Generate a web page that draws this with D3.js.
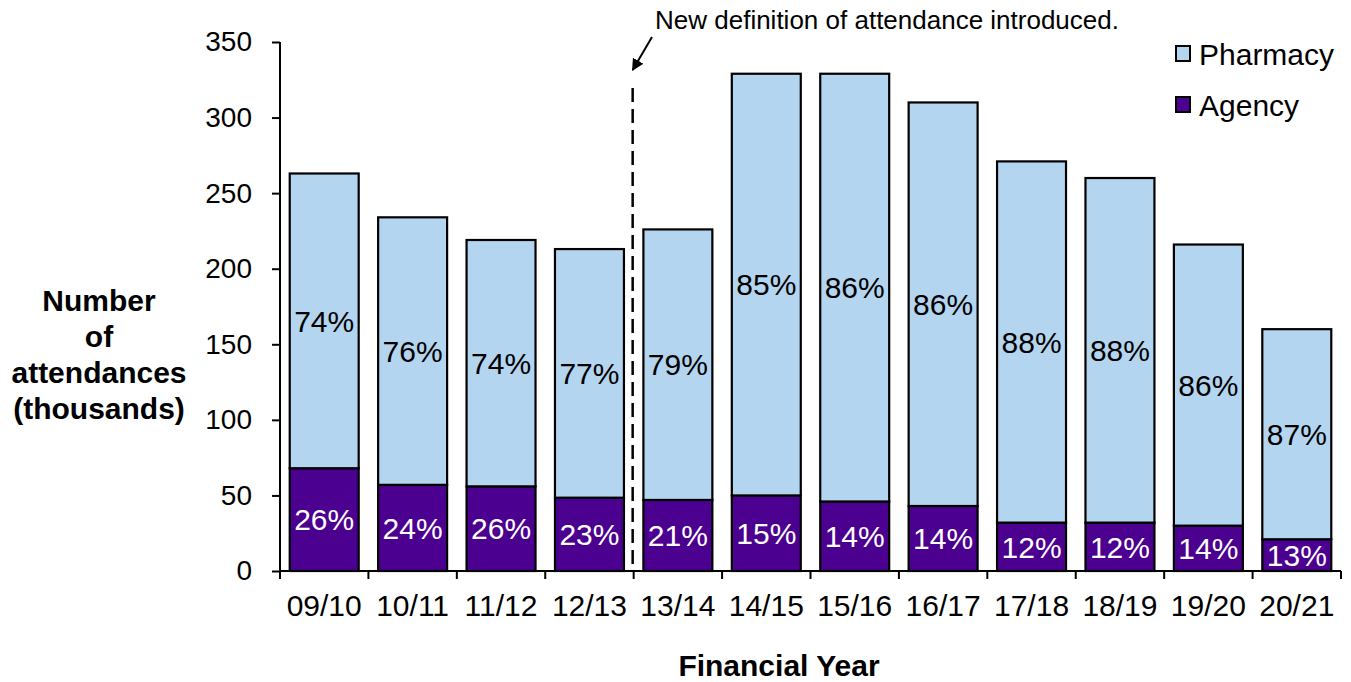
<!DOCTYPE html>
<html>
<head>
<meta charset="utf-8">
<script src="https://cdn.jsdelivr.net/npm/d3@7"></script>
<style>
  html, body { margin: 0; padding: 0; background: #fff; }
  svg { display: block; font-family: "Liberation Sans", Arial, sans-serif; }
</style>
</head>
<body>
<svg id="chart" width="1351" height="682"></svg>
<script>
// Attendances by financial year (thousands)
const years = ["09/10", "10/11", "11/12", "12/13", "13/14", "14/15", "15/16", "16/17", "17/18", "18/19", "19/20", "20/21"];
const agency = [68, 57, 56, 48.5, 47, 50, 46, 43, 32, 32, 30, 21];
const pharmacy = [195, 177, 163, 164.5, 179, 279, 283, 267, 239, 228, 186, 139];
const yTicks = [0, 50, 100, 150, 200, 250, 300, 350];
const seriesNames = ["Pharmacy", "Agency"];
const seriesColors = { Pharmacy: "#b4d5f0", Agency: "#4b0090" };
const breakAfter = "12/13"; // definition change sits between this year and the next

const svg = d3.select("#chart");
const plotLeft = 280, plotRight = 1341, plotTop = 42, plotBottom = 571;

const x = d3.scaleBand().domain(years).range([plotLeft, plotRight]).paddingInner(0.22).paddingOuter(0.11);
const y = d3.scaleLinear().domain([0, 350]).range([plotBottom, plotTop]);

const rows = years.map((yr, i) => ({ year: yr, Agency: agency[i], Pharmacy: pharmacy[i] }));
const stack = d3.stack().keys(["Agency", "Pharmacy"]);
const layers = stack(rows);

// Stacked bars
const g = svg.append("g");
layers.forEach(layer => {
  g.append("g").selectAll("rect").data(layer).join("rect")
    .attr("x", d => x(d.data.year))
    .attr("width", x.bandwidth())
    .attr("y", d => y(d[1]))
    .attr("height", d => y(d[0]) - y(d[1]))
    .attr("fill", seriesColors[layer.key])
    .attr("stroke", "#000")
    .attr("stroke-width", 2.2);
});

// Share labels inside each segment
layers.forEach(layer => {
  g.append("g").selectAll("text").data(layer).join("text")
    .attr("x", d => x(d.data.year) + x.bandwidth() / 2)
    .attr("y", d => (y(d[0]) + y(d[1])) / 2)
    .attr("dy", "0.36em")
    .attr("text-anchor", "middle")
    .attr("font-size", 30)
    .attr("fill", layer.key === "Agency" ? "#fff" : "#000")
    .text(d => Math.round(100 * (d[1] - d[0]) / (d.data.Agency + d.data.Pharmacy)) + "%");
});

// Y axis
const yAxis = svg.append("g").attr("transform", `translate(${plotLeft},0)`)
  .call(d3.axisLeft(y).tickValues(yTicks).tickSize(8).tickPadding(20).tickSizeOuter(0));
yAxis.select(".domain").attr("stroke", "#000").attr("stroke-width", 2).attr("d", `M0,${plotTop}V${plotBottom}`);
yAxis.selectAll(".tick line").attr("stroke", "#000").attr("stroke-width", 2);
yAxis.selectAll(".tick text").attr("font-size", 28).attr("fill", "#000")
  .attr("font-family", "'Liberation Sans', Arial, sans-serif");

// X axis with ticks on category boundaries
const step = x.step();
const x0 = x(years[0]) - x.step() * x.paddingInner() / 2;
const xAxis = svg.append("g").attr("transform", `translate(0,${plotBottom})`);
xAxis.append("line").attr("x1", plotLeft).attr("x2", plotRight).attr("stroke", "#000").attr("stroke-width", 2);
xAxis.selectAll("line.tk").data(d3.range(years.length + 1)).join("line").attr("class", "tk")
  .attr("x1", i => x0 + i * step).attr("x2", i => x0 + i * step)
  .attr("y1", 0).attr("y2", 8).attr("stroke", "#000").attr("stroke-width", 2);
xAxis.selectAll("text").data(years).join("text")
  .attr("x", d => x(d) + x.bandwidth() / 2)
  .attr("y", 45)
  .attr("text-anchor", "middle")
  .attr("font-size", 30)
  .text(d => d);

// Axis titles
svg.append("text").attr("x", 779).attr("y", 676).attr("text-anchor", "middle")
  .attr("font-size", 30).attr("font-weight", "bold").text("Financial Year");
const yTitle = ["Number", "of", "attendances", "(thousands)"];
svg.append("g").selectAll("text").data(yTitle).join("text")
  .attr("x", 99).attr("y", (d, i) => 311 + i * 36)
  .attr("text-anchor", "middle").attr("font-size", 30).attr("font-weight", "bold")
  .text(d => d);

// Dashed marker for the definition change
const idx = years.indexOf(breakAfter) + 1;
const bx = x0 + idx * step - 1;
svg.append("line").attr("x1", bx).attr("x2", bx).attr("y1", 88).attr("y2", plotBottom)
  .attr("stroke", "#000").attr("stroke-width", 2.5).attr("stroke-dasharray", "14,7");

// Annotation and arrow
svg.append("defs").append("marker").attr("id", "arrow")
  .attr("viewBox", "0 0 10 10").attr("refX", 9).attr("refY", 5)
  .attr("markerWidth", 6).attr("markerHeight", 6).attr("orient", "auto")
  .append("path").attr("d", "M0,0L10,5L0,10Z").attr("fill", "#000");
svg.append("line").attr("x1", 652).attr("y1", 37).attr("x2", bx).attr("y2", 70)
  .attr("stroke", "#000").attr("stroke-width", 2).attr("marker-end", "url(#arrow)");
svg.append("text").attr("x", 655).attr("y", 29).attr("font-size", 26)
  .text("New definition of attendance introduced.");

// Legend
const legend = svg.append("g").selectAll("g").data(seriesNames).join("g")
  .attr("transform", (d, i) => `translate(1176,${46 + i * 51})`);
legend.append("rect").attr("width", 14).attr("height", 15)
  .attr("fill", d => seriesColors[d]).attr("stroke", "#000").attr("stroke-width", 2);
legend.append("text").attr("x", 23).attr("y", 8).attr("dy", "0.36em")
  .attr("font-size", 30).text(d => d);
</script>
</body>
</html>
